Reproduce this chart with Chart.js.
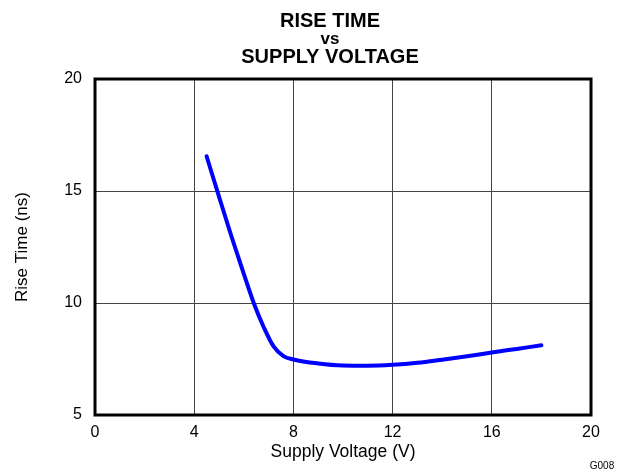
<!DOCTYPE html>
<html>
<head>
<meta charset="utf-8">
<script src="https://cdn.jsdelivr.net/npm/chart.js@4/dist/chart.umd.min.js"></script>
<style>
  html, body { margin: 0; padding: 0; background: #fff; }
  #chart { display: block; }
</style>
</head>
<body>
<canvas id="chart" width="623" height="472"></canvas>
<script>
// data
const supplyVoltage = [4.5, 5.0, 5.5, 6.0, 6.4, 6.8, 7.2, 7.6, 8.0, 9.0, 10, 11, 12, 13, 14, 15, 16, 17, 18];
const riseTime = [16.55, 14.75, 12.98, 11.3, 10.0, 8.93, 8.06, 7.63, 7.48, 7.3, 7.21, 7.2, 7.24, 7.33, 7.47, 7.62, 7.79, 7.95, 8.11];
const xTicks = [0, 4, 8, 12, 16, 20];
const yTicks = [5, 10, 15, 20];

const FONT = "'Liberation Sans', Arial, sans-serif";

// titles + frame + figure id drawn on top
const extras = {
  id: "extras",
  afterDraw(chart) {
    const ctx = chart.ctx;
    const a = chart.chartArea;
    ctx.save();
    ctx.strokeStyle = "#000";
    ctx.lineWidth = 3;
    ctx.strokeRect(a.left, a.top, a.right - a.left, a.bottom - a.top);

    ctx.fillStyle = "#000";
    ctx.textAlign = "center";
    ctx.textBaseline = "alphabetic";
    ctx.font = "bold 20px " + FONT;
    ctx.fillText("RISE TIME", 330, 27);
    ctx.font = "bold 17px " + FONT;
    ctx.fillText("vs", 330, 44);
    ctx.font = "bold 20px " + FONT;
    ctx.fillText("SUPPLY VOLTAGE", 330, 63);

    ctx.font = "10px " + FONT;
    ctx.fillText("G008", 602, 469);
    ctx.restore();
  },
};

new Chart(document.getElementById("chart"), {
  type: "scatter",
  data: {
    datasets: [
      {
        data: supplyVoltage.map((x, i) => ({ x, y: riseTime[i] })),
        showLine: true,
        borderColor: "#0000ff",
        borderWidth: 4,
        borderCapStyle: "round",
        pointRadius: 0,
        cubicInterpolationMode: "monotone",
        fill: false,
      },
    ],
  },
  options: {
    responsive: false,
    animation: false,
    layout: { padding: { top: 79, right: 32, left: 0, bottom: 0 } },
    plugins: { legend: { display: false }, tooltip: { enabled: false } },
    scales: {
      x: {
        type: "linear",
        min: 0,
        max: 20,
        afterBuildTicks: (s) => { s.ticks = xTicks.map((v) => ({ value: v })); },
        afterFit: (s) => { s.height = 57; },
        grid: { color: "#444", lineWidth: 1, drawTicks: false },
        border: { display: false },
        ticks: { color: "#000", font: { family: FONT, size: 16 }, padding: 8, maxRotation: 0 },
        title: {
          display: true,
          text: "Supply Voltage (V)",
          color: "#000",
          font: { family: FONT, size: 17.5 },
          padding: { top: 0, bottom: 9 },
        },
      },
      y: {
        type: "linear",
        min: 5,
        max: 20,
        afterBuildTicks: (s) => { s.ticks = yTicks.map((v) => ({ value: v })); },
        afterFit: (s) => { s.width = 95; },
        grid: { color: "#444", lineWidth: 1, drawTicks: false },
        border: { display: false },
        ticks: { color: "#000", font: { family: FONT, size: 16 }, padding: 13 },
        title: {
          display: true,
          text: "Rise Time (ns)",
          color: "#000",
          font: { family: FONT, size: 17 },
          padding: { top: 12, bottom: 0 },
        },
      },
    },
  },
  plugins: [extras],
});
</script>
</body>
</html>
